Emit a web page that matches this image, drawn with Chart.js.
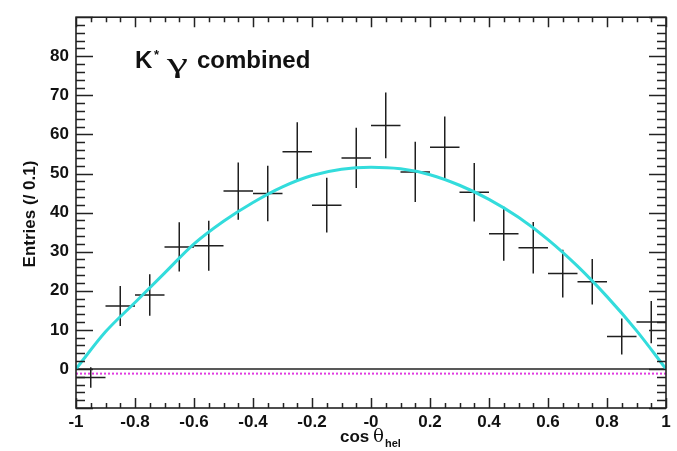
<!DOCTYPE html>
<html>
<head>
<meta charset="utf-8">
<script src="https://cdn.jsdelivr.net/npm/chart.js@4"></script>
<style>
html,body{margin:0;padding:0;background:#fff;}
#wrap{width:677px;height:451px;}
</style>
</head>
<body>
<div id="wrap"><canvas id="c" width="677" height="451"></canvas></div>
<script>
// ---- data ----
const binCenters = [-0.95,-0.85,-0.75,-0.65,-0.55,-0.45,-0.35,-0.25,-0.15,-0.05,0.05,0.15,0.25,0.35,0.45,0.55,0.65,0.75,0.85,0.95];
const entries    = [-2.2,16.1,18.9,31.2,31.5,45.5,44.9,55.6,41.9,54.0,62.3,50.4,56.7,45.2,34.6,31.0,24.4,22.3,8.3,12.0];
const errors     = [2.6,5.1,5.3,6.3,6.4,7.3,7.1,7.5,7.0,7.7,8.4,7.7,7.9,7.5,6.9,6.6,6.1,5.8,4.6,5.4];
const binHalfWidth = 0.05;
const fitX = [-1,-0.9,-0.8,-0.7,-0.6,-0.5,-0.4,-0.3,-0.2,-0.1,0,0.1,0.2,0.3,0.4,0.5,0.6,0.7,0.8,0.9,1];
const fitY = [0,9.5,17.0,24.5,32.0,37.8,42.6,46.6,49.5,51.1,51.6,51.2,49.7,47.0,43.4,38.8,33.1,26.3,18.5,9.8,0];
const zeroLevel = 0;
const bkgLevel = -1.2;
const xTickValues = [-1,-0.8,-0.6,-0.4,-0.2,0,0.2,0.4,0.6,0.8,1];
const xTickLabels = ['-1','-0.8','-0.6','-0.4','-0.2','-0','0.2','0.4','0.6','0.8','1'];
const yTickLabels = ['0','10','20','30','40','50','60','70','80'];

// ---- build datasets ----
const hBars = [], vBars = [];
binCenters.forEach((x,i)=>{
  hBars.push({x:x-binHalfWidth,y:entries[i]},{x:x+binHalfWidth,y:entries[i]},{x:x,y:null});
  vBars.push({x:x,y:entries[i]-errors[i]},{x:x,y:entries[i]+errors[i]},{x:x,y:null});
});
const fitData = fitX.map((x,i)=>({x:x,y:fitY[i]}));

const FONT = '"Liberation Sans", Arial, Helvetica, sans-serif';
const INK = '#1f1f1f';

function drawStretched(ctx, txt, x, y, targetW){
  const w = ctx.measureText(txt).width;
  ctx.save();
  ctx.translate(x,y);
  ctx.scale(targetW/w,1);
  ctx.fillText(txt,0,0);
  ctx.restore();
}

const framePlugin = {
  id:'frame',
  afterDatasetsDraw(chart){
    const {ctx, chartArea:a, scales:{x,y}} = chart;
    ctx.save();
    ctx.strokeStyle = '#222';
    ctx.lineWidth = 1.5;
    for(let k=0;k<=40;k++){
      const v = -1 + k*0.05;
      const px = Math.round(x.getPixelForValue(v))+0.5;
      const len = (k%4===0)?10:5;
      ctx.beginPath();
      ctx.moveTo(px,a.bottom); ctx.lineTo(px,a.bottom-len);
      ctx.moveTo(px,a.top); ctx.lineTo(px,a.top+len);
      ctx.stroke();
    }
    for(let k=0;k<=50;k++){
      const v = -10 + k*2;
      const py = Math.round(y.getPixelForValue(v))+0.5;
      const len = (k%5===0)?17:9;
      ctx.beginPath();
      ctx.moveTo(a.left,py); ctx.lineTo(a.left+len,py);
      ctx.moveTo(a.right,py); ctx.lineTo(a.right-len,py);
      ctx.stroke();
    }
    ctx.lineWidth = 1.6;
    ctx.strokeRect(a.left,a.top,a.right-a.left,a.bottom-a.top);

    // texts
    ctx.fillStyle = '#111';
    ctx.textBaseline = 'alphabetic';
    ctx.textAlign = 'left';
    ctx.font = 'bold 24px '+FONT;
    ctx.fillText('K',135,68);
    ctx.font = 'bold 13px '+FONT;
    ctx.fillText('*',154,59);
    ctx.font = '28px "Liberation Serif", "DejaVu Serif", serif';
    drawStretched(ctx,'\u03B3',167,72,21);
    ctx.font = 'bold 24px '+FONT;
    ctx.fillText('combined',197,68);

    // x title
    ctx.font = 'bold 17px '+FONT;
    ctx.fillText('cos',340,442);
    ctx.font = '19px "DejaVu Serif", "Liberation Serif", serif';
    drawStretched(ctx,'\u03B8',373,442,11);
    ctx.font = 'bold 11px '+FONT;
    ctx.fillText('hel',385,447);

    // y title
    ctx.save();
    ctx.translate(35,214);
    ctx.rotate(-Math.PI/2);
    ctx.textAlign = 'center';
    ctx.font = 'bold 17px '+FONT;
    ctx.fillText('Entries (/ 0.1)',0,0);
    ctx.restore();
    ctx.restore();
  }
};

new Chart(document.getElementById('c'),{
  type:'scatter',
  data:{datasets:[
    {label:'fit', data:fitData, showLine:true, borderColor:'#33dcdc', borderWidth:3, pointRadius:0, cubicInterpolationMode:'monotone', fill:false},
    {label:'hbars', data:hBars, showLine:true, spanGaps:false, borderColor:INK, borderWidth:1.5, pointRadius:0},
    {label:'vbars', data:vBars, showLine:true, spanGaps:false, borderColor:INK, borderWidth:1.5, pointRadius:0},
    {label:'zero', data:[{x:-1,y:zeroLevel},{x:1,y:zeroLevel}], showLine:true, borderColor:'#222', borderWidth:1.5, pointRadius:0},
    {label:'bkg', data:[{x:-1,y:bkgLevel},{x:1,y:bkgLevel}], showLine:true, borderColor:'#e03ce0', borderWidth:2, borderDash:[2,2], pointRadius:0}
  ]},
  options:{
    responsive:false,
    animation:false,
    events:[],
    layout:{padding:{left:0,right:11,top:8,bottom:0}},
    plugins:{legend:{display:false},tooltip:{enabled:false}},
    scales:{
      x:{
        type:'linear', min:-1, max:1,
        afterFit:s=>{s.height=43;},
        afterBuildTicks:s=>{s.ticks = xTickValues.map(v=>({value:v}));},
        grid:{display:false,drawTicks:false},
        border:{display:false},
        ticks:{
          autoSkip:false, maxRotation:0, padding:4, color:'#111',
          font:{family:FONT,size:17,weight:'bold'},
          callback:(v,i)=>xTickLabels[i]
        }
      },
      y:{
        type:'linear', min:-10, max:90,
        afterFit:s=>{s.width=76;},
        afterBuildTicks:s=>{s.ticks = yTickLabels.map(t=>({value:Number(t)}));},
        grid:{display:false,drawTicks:false},
        border:{display:false},
        ticks:{
          autoSkip:false, padding:7, color:'#111',
          font:{family:FONT,size:17,weight:'bold'},
          callback:(v,i)=>yTickLabels[i]
        }
      }
    }
  },
  plugins:[framePlugin]
});
</script>
</body>
</html>
